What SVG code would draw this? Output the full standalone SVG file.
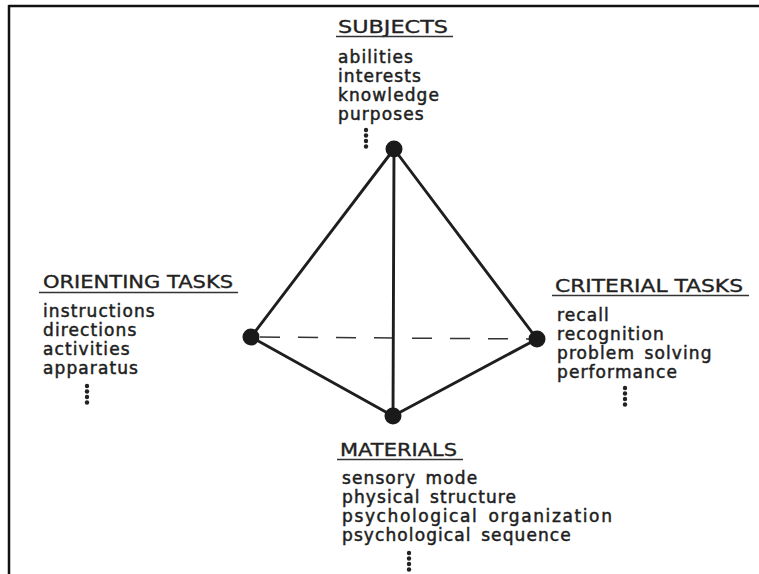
<svg xmlns="http://www.w3.org/2000/svg" width="759" height="574" viewBox="0 0 759 574">
  <style>
    .head { font-family: "DejaVu Sans", "Liberation Sans", sans-serif; font-size: 17.5px; fill: #222; stroke: #222; stroke-width: 0.35; }
    .item { font-family: "DejaVu Sans", "Liberation Sans", sans-serif; font-size: 17px; fill: #1e1e1e; stroke: #1e1e1e; stroke-width: 0.5; letter-spacing: 1.1px; word-spacing: 3px; }
    .rule { stroke: #333; stroke-width: 1.6; }
    .edge { stroke: #1e1e1e; stroke-width: 2.9; fill: none; stroke-linecap: round; }
    .hidden { stroke: #333; stroke-width: 1.5; stroke-dasharray: 20 18; fill: none; }
    .node { fill: #1a1a1a; }
    .dot { fill: #222; }
  </style>
  <defs>
    <!-- vertical ellipsis under each list -->
    <g id="more">
      <circle cx="0" cy="0" r="2.2"/>
      <circle cx="0" cy="5.5" r="2.2"/>
      <circle cx="0" cy="11" r="2.2"/>
      <circle cx="0" cy="16.5" r="2.2"/>
    </g>
  </defs>

  <rect width="759" height="574" fill="#fff"/>
  <!-- frame -->
  <line x1="8.5" y1="6" x2="759" y2="6" stroke="#111" stroke-width="2.5"/>
  <line x1="9" y1="5" x2="9" y2="574" stroke="#111" stroke-width="2.5"/>

  <!-- tetrahedron edges -->
  <g id="connectors">
    <line class="hidden" x1="260" y1="337" x2="530" y2="339"/>
    <line class="edge" x1="394" y1="149" x2="251" y2="337"/>
    <line class="edge" x1="394" y1="149" x2="537" y2="339"/>
    <line class="edge" x1="394" y1="149" x2="393" y2="416"/>
    <line class="edge" x1="251" y1="337" x2="393" y2="416"/>
    <line class="edge" x1="537" y1="339" x2="393" y2="416"/>
  </g>

  <g id="subjects">
    <circle class="node" cx="394" cy="149" r="8.5"/>
    <text class="head" x="338" y="33" textLength="110" lengthAdjust="spacingAndGlyphs">SUBJECTS</text>
    <line class="rule" x1="336" y1="36.5" x2="453" y2="36.5"/>
    <text class="item" x="338" y="63">abilities</text>
    <text class="item" x="338" y="82">interests</text>
    <text class="item" x="338" y="101">knowledge</text>
    <text class="item" x="338" y="120">purposes</text>
    <use href="#more" class="dot" x="366" y="130"/>
  </g>

  <g id="orienting-tasks">
    <circle class="node" cx="251" cy="337" r="8.5"/>
    <text class="head" x="43" y="288" textLength="190" lengthAdjust="spacingAndGlyphs">ORIENTING TASKS</text>
    <line class="rule" x1="39" y1="292.5" x2="238" y2="292.5"/>
    <text class="item" x="43" y="317">instructions</text>
    <text class="item" x="43" y="336">directions</text>
    <text class="item" x="43" y="355">activities</text>
    <text class="item" x="43" y="374">apparatus</text>
    <use href="#more" class="dot" x="87" y="386"/>
  </g>

  <g id="criterial-tasks">
    <circle class="node" cx="537" cy="339" r="8.5"/>
    <text class="head" x="555" y="292" textLength="188" lengthAdjust="spacingAndGlyphs">CRITERIAL TASKS</text>
    <line class="rule" x1="552" y1="295.5" x2="749" y2="295.5"/>
    <text class="item" x="557" y="321">recall</text>
    <text class="item" x="557" y="340">recognition</text>
    <text class="item" x="557" y="359">problem solving</text>
    <text class="item" x="557" y="378">performance</text>
    <use href="#more" class="dot" x="625" y="388"/>
  </g>

  <g id="materials">
    <circle class="node" cx="393" cy="416" r="8.5"/>
    <text class="head" x="340" y="456" textLength="117" lengthAdjust="spacingAndGlyphs">MATERIALS</text>
    <line class="rule" x1="337" y1="459.5" x2="463" y2="459.5"/>
    <text class="item" x="342" y="484">sensory mode</text>
    <text class="item" x="342" y="503">physical structure</text>
    <text class="item" x="342" y="522" textLength="271">psychological organization</text>
    <text class="item" x="342" y="541">psychological sequence</text>
    <use href="#more" class="dot" x="409" y="553"/>
  </g>
</svg>
